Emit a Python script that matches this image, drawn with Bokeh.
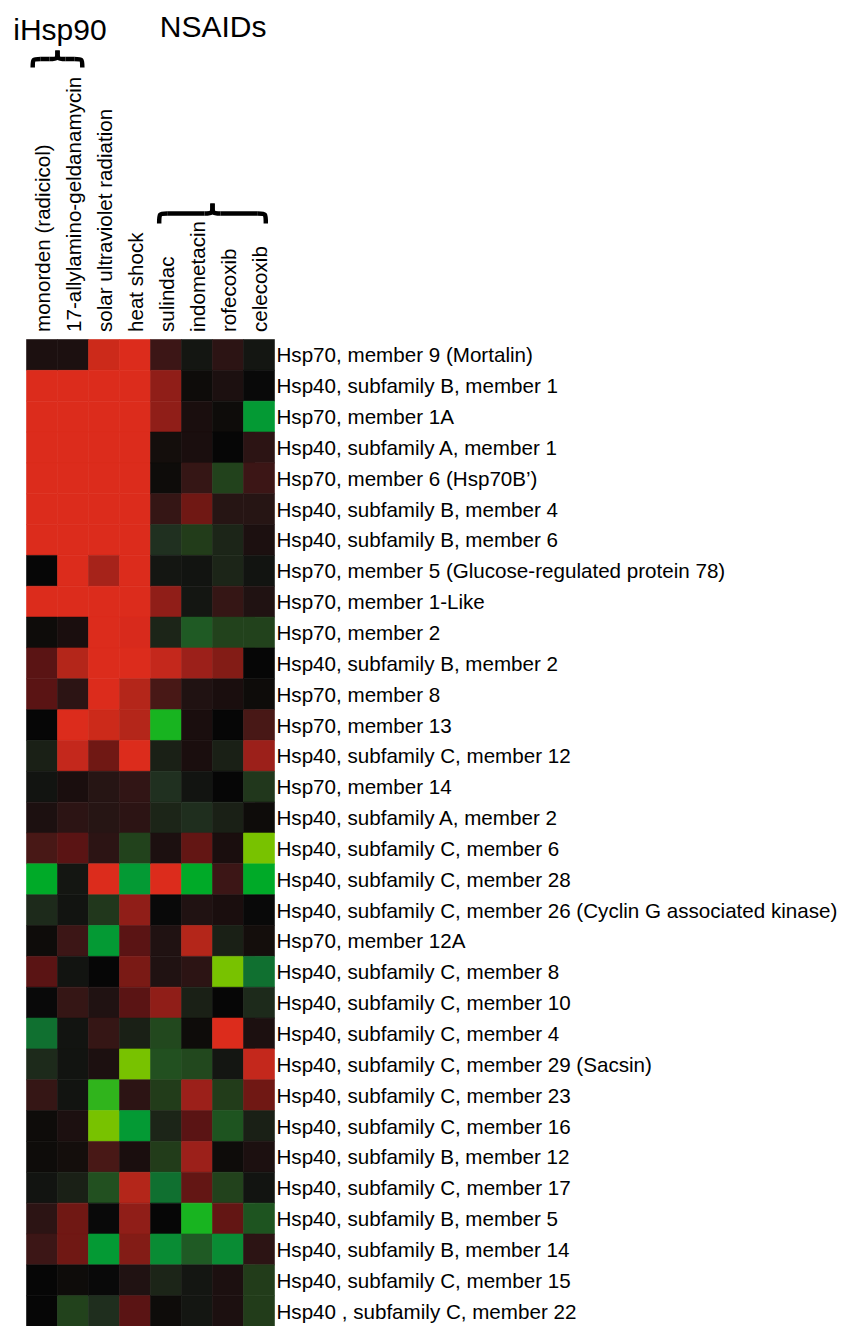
import numpy as np
from bokeh.plotting import figure
from bokeh.models import Range1d, LinearColorMapper, ColumnDataSource
from bokeh.transform import transform
from bokeh.core.properties import value
from bokeh.embed import file_html
from bokeh.resources import INLINE

# ---------------- data ----------------
treatments = ["monorden (radicicol)", "17-allylamino-geldanamycin",
              "solar ultraviolet radiation", "heat shock", "sulindac",
              "indometacin", "rofecoxib", "celecoxib"]

genes = [
    "Hsp70, member 9 (Mortalin)",
    "Hsp40, subfamily B, member 1",
    "Hsp70, member 1A",
    "Hsp40, subfamily A, member 1",
    "Hsp70, member 6 (Hsp70B\u2019)",
    "Hsp40, subfamily B, member 4",
    "Hsp40, subfamily B, member 6",
    "Hsp70, member 5 (Glucose-regulated protein 78)",
    "Hsp70, member 1-Like",
    "Hsp70, member 2",
    "Hsp40, subfamily B, member 2",
    "Hsp70, member 8",
    "Hsp70, member 13",
    "Hsp40, subfamily C, member 12",
    "Hsp70, member 14",
    "Hsp40, subfamily A, member 2",
    "Hsp40, subfamily C, member 6",
    "Hsp40, subfamily C, member 28",
    "Hsp40, subfamily C, member 26 (Cyclin G associated kinase)",
    "Hsp70, member 12A",
    "Hsp40, subfamily C, member 8",
    "Hsp40, subfamily C, member 10",
    "Hsp40, subfamily C, member 4",
    "Hsp40, subfamily C, member 29 (Sacsin)",
    "Hsp40, subfamily C, member 23",
    "Hsp40, subfamily C, member 16",
    "Hsp40, subfamily B, member 12",
    "Hsp40, subfamily C, member 17",
    "Hsp40, subfamily B, member 5",
    "Hsp40, subfamily B, member 14",
    "Hsp40, subfamily C, member 15",
    "Hsp40 , subfamily C, member 22",
]

# relative expression (+ = induced / red, - = repressed / green), top row first
monorden   = [0.06, 1, 1, 1, 1, 1, 1, 0, 1, 0.015, 0.3, 0.3, 0, -0.08, -0.03, 0.06,
              0.25, -0.8, -0.12, 0.015, 0.3, -0.005, -0.55, -0.12, 0.17, 0.015, 0.015, -0.03,
              0.12, 0.2, 0, 0]
allylamino = [0.06, 1, 1, 1, 1, 1, 1, 1, 1, 0.05, 0.72, 0.12, 1, 0.8, 0.05, 0.12,
              0.3, -0.04, -0.03, 0.2, -0.03, 0.17, -0.03, -0.03, -0.03, 0.06, 0.03, -0.08,
              0.4, 0.4, 0.015, -0.27]
solar_uv   = [0.85, 1, 1, 1, 1, 1, 1, 0.65, 1, 1, 1, 1, 0.85, 0.4, 0.1, 0.1,
              0.12, 1, -0.2, -0.72, 0, 0.08, 0.17, 0.06, -0.94, -1.0, 0.25, -0.35,
              -0.005, -0.72, -0.005, -0.15]
heat_shock = [1, 1, 1, 1, 1, 1, 1, 1, 1, 0.95, 1, 0.72, 0.72, 1, 0.15, 0.12,
              -0.27, -0.72, 0.5, 0.3, 0.43, 0.3, -0.08, -1.0, 0.12, -0.72, 0.05, 0.72,
              0.5, 0.46, 0.08, 0.3]
sulindac   = [0.2, 0.5, 0.5, 0.03, 0.015, 0.17, -0.17, -0.04, 0.5, -0.1, 0.8, 0.25, -0.88, -0.08, -0.17, -0.1,
              0.06, 1, -0.005, 0.08, 0.08, 0.5, -0.3, -0.35, -0.22, -0.1, -0.22, -0.55,
              0, -0.65, -0.1, 0.015]
indometacin = [-0.04, 0.015, 0.05, 0.05, 0.17, 0.4, -0.22, -0.03, -0.04, -0.45, 0.6, 0.08, 0.05, 0.05, -0.03, -0.15,
               0.34, -0.8, 0.08, 0.72, 0.12, -0.08, 0.015, -0.3, 0.6, 0.3, 0.6, 0.34,
               -0.88, -0.45, -0.04, -0.04]
rofecoxib  = [0.12, 0.06, 0.015, 0, -0.27, 0.1, -0.1, -0.1, 0.17, -0.27, 0.46, 0.05, 0, -0.08, 0, -0.08,
              0.05, 0.2, 0.05, -0.08, -1.0, 0, 1, -0.04, -0.22, -0.4, 0.015, -0.27,
              0.34, -0.65, 0.06, 0.06]
celecoxib  = [-0.04, -0.005, -0.72, 0.12, 0.2, 0.1, 0.06, -0.03, 0.08, -0.27, 0, 0.015, 0.25, 0.6, -0.2, 0.015,
              -1.0, -0.8, -0.005, 0.03, -0.55, -0.12, 0.06, 0.8, 0.4, -0.08, 0.06, -0.03,
              -0.4, 0.12, -0.22, -0.22]

series = [monorden, allylamino, solar_uv, heat_shock, sulindac, indometacin, rofecoxib, celecoxib]

group_names = ["iHsp90", "NSAIDs"]
group_first = [0, 4]
group_last = [1, 7]

# ---------------- colour scale (green - black - red) ----------------
scale_values = [-1.0, -0.94, -0.88, -0.8, -0.72, -0.65, -0.55, -0.45, -0.4, -0.35, -0.3, -0.27,
                -0.22, -0.17, -0.12, -0.08, -0.04, -0.02, 0.0, 0.015, 0.03, 0.05, 0.06, 0.08,
                0.1, 0.12, 0.17, 0.2, 0.25, 0.3, 0.4, 0.5, 0.6, 0.72, 0.8, 0.85, 0.95, 1.0]
scale_colors = ["#78C200", "#30B41C", "#18B420", "#00AA28", "#049A34", "#098C34", "#107030", "#1F5A24",
                "#1E5420", "#225020", "#22481E", "#22421C", "#223C1A", "#203020", "#1D2A1B", "#1A2016",
                "#141612", "#101210", "#060606", "#0E0C0A", "#140E0C", "#1A0E0E", "#1C1010", "#201212",
                "#261514", "#2C1414", "#351615", "#3C1616", "#481816", "#5A1414", "#701814", "#901E18",
                "#9C201A", "#B4261A", "#C4281C", "#CC2A1A", "#D82A1C", "#DC2C1C"]


def _rgb(h):
    return [int(h[i:i + 2], 16) for i in (1, 3, 5)]


_rgb_arr = np.array([_rgb(c) for c in scale_colors], dtype=float)
_grid = np.linspace(-1, 1, 401)
palette = []
for g in _grid:
    r, gg, b = (int(round(np.interp(g, scale_values, _rgb_arr[:, k]))) for k in range(3))
    palette.append("#%02x%02x%02x" % (r, gg, b))
mapper = LinearColorMapper(palette=palette, low=-1, high=1)

# ---------------- layout constants (pixels) ----------------
W, H = 843, 1326
COL_PX = 31.0
ROW_PX = 987.0 / 32
LEFT_PX = 26.0      # heatmap left edge inside canvas
TOP_PX = 339.0      # heatmap top edge inside canvas

x0 = -LEFT_PX / COL_PX
y1 = TOP_PX / ROW_PX


def ypx(page_y):
    return (TOP_PX - page_y) / ROW_PX


def xpx(page_x):
    return (page_x - LEFT_PX) / COL_PX


FONT = value("Liberation Sans")

p = figure(width=W, height=H, x_range=Range1d(x0, x0 + W / COL_PX),
           y_range=Range1d(y1 - H / ROW_PX, y1), toolbar_location=None, output_backend="svg",
           x_axis_location=None, y_axis_location=None, min_border=0)
p.grid.visible = False
p.outline_line_color = None
p.background_fill_color = "white"
p.border_fill_color = "white"

# heatmap cells
xs, ys, vs = [], [], []
for ci, col in enumerate(series):
    for ri, v in enumerate(col):
        xs.append(ci + 0.5)
        ys.append(-(ri + 0.5))
        vs.append(v)
src = ColumnDataSource(dict(x=xs, y=ys, v=vs))
p.rect(x="x", y="y", width=1, height=1, source=src,
       fill_color=transform("v", mapper), line_color=transform("v", mapper), line_width=0.6)

# row labels
p.text(x=[xpx(276.0)] * len(genes), y=[-(i + 0.5) for i in range(len(genes))], text=genes,
       text_font=FONT, text_font_size="20.6px", text_align="left", text_baseline="middle",
       text_color="black")

# column labels
p.text(x=[i + 0.5 for i in range(len(treatments))], y=[ypx(331.5)] * len(treatments), text=treatments,
       angle=np.pi / 2, text_font=FONT, text_font_size="20.6px", text_align="left",
       text_baseline="middle", text_color="black")

# group braces and titles
brace_ends = [ypx(67), ypx(223)]
brace_bar = [ypx(58.5), ypx(213)]
brace_peak = [ypx(50), ypx(203)]
brace_inset = [0.2, 0.28]
title_x = [1.08, 6.02]
title_y = [ypx(28.5), ypx(25.5)]

for gi in range(len(group_names)):
    xa = group_first[gi] + brace_inset[gi]
    xb = group_last[gi] + 1 - brace_inset[gi]
    xm = (xa + xb) / 2
    h = 8.0 / COL_PX
    ye, yb, yp = brace_ends[gi], brace_bar[gi], brace_peak[gi]
    p.bezier(x0=[xa, xm - h, xb, xm + h], y0=[ye, yb, ye, yb],
             x1=[xa + h, xm, xb - h, xm], y1=[yb, yp, yb, yp],
             cx0=[xa, xm, xb, xm], cy0=[yb, yb, yb, yb],
             cx1=[xa, xm, xb, xm], cy1=[yb, yb, yb, yb],
             line_color="black", line_width=4.5)
    p.segment(x0=[xa + h, xm + h], y0=[yb, yb], x1=[xm - h, xb - h], y1=[yb, yb],
              line_color="black", line_width=4.5)
    p.text(x=[title_x[gi]], y=[title_y[gi]], text=[group_names[gi]], text_font=FONT,
           text_font_size="30px", text_align="center", text_baseline="middle",
           text_color="black")

open("out.html", "w").write(file_html(p, INLINE))
